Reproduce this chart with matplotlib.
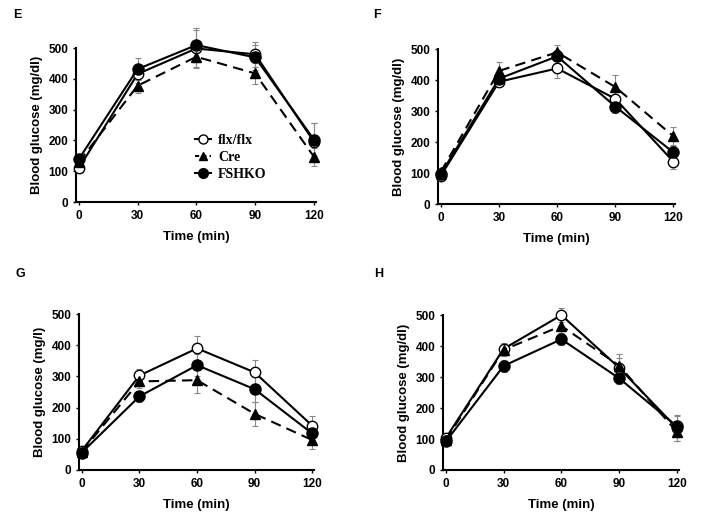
import matplotlib
matplotlib.use('Agg')
import matplotlib.pyplot as plt
from matplotlib.lines import Line2D

plt.rcParams['font.family'] = ['Liberation Sans', 'DejaVu Sans']
plt.rcParams['font.weight'] = 'bold'

time = [0, 30, 60, 90, 120]
groups = ['flx/flx', 'Cre', 'FSHKO']

# panel E
e_flx = [110, 416, 499, 480, 196]
e_cre = [130, 378, 472, 418, 147]
e_fshko = [139, 432, 510, 470, 203]
e_flx_err = [15, 30, 60, 40, 60]
e_cre_err = [15, 25, 35, 35, 30]
e_fshko_err = [15, 35, 55, 40, 55]

# panel F
f_flx = [92, 395, 438, 340, 137]
f_cre = [105, 430, 490, 378, 219]
f_fshko = [98, 405, 477, 315, 167]
f_flx_err = [10, 15, 30, 25, 25]
f_cre_err = [10, 28, 22, 40, 30]
f_fshko_err = [10, 15, 20, 20, 25]

# panel G
g_flx = [62, 303, 390, 313, 142]
g_cre = [59, 284, 288, 180, 96]
g_fshko = [56, 236, 336, 259, 117]
g_flx_err = [10, 20, 40, 40, 30]
g_cre_err = [10, 20, 40, 38, 30]
g_fshko_err = [10, 18, 35, 40, 20]

# panel H
h_flx = [103, 391, 500, 330, 135]
h_cre = [97, 388, 465, 337, 123]
h_fshko = [92, 336, 422, 296, 141]
h_flx_err = [10, 18, 22, 30, 40]
h_cre_err = [10, 20, 25, 38, 30]
h_fshko_err = [10, 20, 20, 20, 35]

panels = [
    ('E', 'Blood glucose (mg/dl)', [0.108, 0.610, 0.342, 0.297],
     (e_flx, e_cre, e_fshko), (e_flx_err, e_cre_err, e_fshko_err), (13, 15)),
    ('F', 'Blood glucose (mg/dl)', [0.624, 0.606, 0.338, 0.299],
     (f_flx, f_cre, f_fshko), (f_flx_err, f_cre_err, f_fshko_err), (373, 15)),
    ('G', 'Blood glucose (mg/l)', [0.1125, 0.0927, 0.335, 0.301],
     (g_flx, g_cre, g_fshko), (g_flx_err, g_cre_err, g_fshko_err), (15, 274)),
    ('H', 'Blood glucose (mg/dl)', [0.631, 0.0927, 0.336, 0.299],
     (h_flx, h_cre, h_fshko), (h_flx_err, h_cre_err, h_fshko_err), (374, 274)),
]

styles = [
    dict(marker='o', mfc='white', mec='black', ms=7.5, ls='-'),
    dict(marker='^', mfc='black', mec='black', ms=6.5, ls=(0, (5, 3))),
    dict(marker='o', mfc='black', mec='black', ms=8, ls='-'),
]

fig = plt.figure(figsize=(7.02, 5.18), dpi=100)

for letter, ylab, pos, vals, errs, lxy in panels:
    ax = fig.add_axes(pos)
    for v, er, st in zip(vals, errs, styles):
        eb = ax.errorbar(time, v, yerr=er, fmt='none', ecolor='#888888',
                         elinewidth=0.8, capsize=2, capthick=0.8, zorder=1)
        for art in eb.lines[1] + eb.lines[2]:
            art.set_clip_on(False)
        ax.plot(time, v, color='black', lw=1.5, zorder=3, clip_on=False, **st)
    ax.set_xlim(-1.5, 121)
    ax.set_ylim(0, 500)
    ax.set_xticks(time)
    ax.set_yticks([0, 100, 200, 300, 400, 500])
    ax.spines['top'].set_visible(False)
    ax.spines['right'].set_visible(False)
    ax.spines['left'].set_linewidth(1.5)
    ax.spines['bottom'].set_linewidth(1.5)
    ax.tick_params(length=2, width=1, labelsize=8.5)
    for t in ax.get_xticklabels() + ax.get_yticklabels():
        t.set_fontweight('bold')
    ax.set_xlabel('Time (min)', fontsize=9.5, fontweight='bold', labelpad=7)
    ax.set_ylabel(ylab, fontsize=9.5, fontweight='bold', labelpad=4)
    fig.text(lxy[0] / 702, 1 - lxy[1] / 518, letter, fontsize=9,
             fontweight='bold', va='center', ha='left')
    if letter == 'E':
        leg_styles = [
            dict(marker='o', mfc='white', mec='black', ms=6.5, ls='-'),
            dict(marker='^', mfc='black', mec='black', ms=6, ls=(0, (2, 1.5))),
            dict(marker='o', mfc='black', mec='black', ms=7, ls='-'),
        ]
        handles = [Line2D([], [], color='black', lw=1.5, **st) for st in leg_styles]
        ax.legend(handles, groups, loc='upper left', bbox_to_anchor=(0.469, 0.49),
                  frameon=False, borderpad=0, handlelength=1.15,
                  handletextpad=0.5, labelspacing=0.3, numpoints=1,
                  prop=dict(family='Liberation Serif', weight='bold', size=10))

fig.savefig('out.png', dpi=100)
